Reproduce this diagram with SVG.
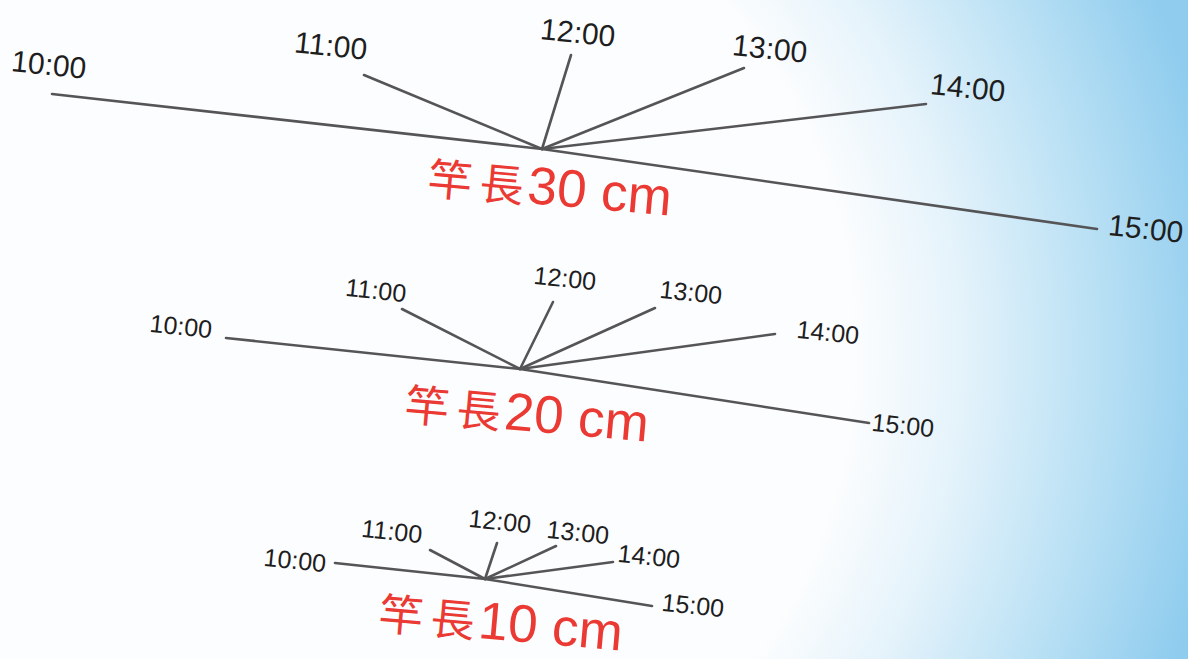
<svg xmlns="http://www.w3.org/2000/svg" width="1188" height="659" viewBox="0 0 1188 659">
<defs>
<radialGradient id="sky" gradientUnits="userSpaceOnUse" cx="330" cy="350" r="900">
<stop offset="0" stop-color="#fcfdfe"/>
<stop offset="0.58" stop-color="#fcfdfe"/>
<stop offset="0.7" stop-color="#e5f3fb"/>
<stop offset="0.84" stop-color="#bde2f5"/>
<stop offset="1" stop-color="#8fccee"/>
</radialGradient>
<style>
.ln{stroke:#555557;stroke-width:2.6;fill:none;stroke-linecap:round}
.t1{font-family:"Liberation Sans","DejaVu Sans",sans-serif;font-size:30px;fill:#1e1e1e;text-anchor:middle}
.t2{font-family:"Liberation Sans","DejaVu Sans",sans-serif;font-size:25px;fill:#1e1e1e;text-anchor:middle}
.rd{font-family:"Liberation Sans","Noto Sans CJK TC",sans-serif;font-size:53px;fill:#ea3a33;text-anchor:middle}
.cj{font-size:44px}
</style>
</defs>
<rect width="1188" height="659" fill="url(#sky)"/>

<g id="connectors">
<!-- 30 cm -->
<polyline class="ln" points="52,94 542,149 1097,229"/>
<line class="ln" x1="364" y1="75" x2="542" y2="149"/>
<line class="ln" x1="571" y1="55" x2="542" y2="149"/>
<line class="ln" x1="744" y1="68" x2="542" y2="149"/>
<line class="ln" x1="926" y1="104" x2="542" y2="149"/>
<!-- 20 cm -->
<polyline class="ln" points="226,338 520,369 869,423"/>
<line class="ln" x1="402" y1="309" x2="520" y2="369"/>
<line class="ln" x1="553" y1="302" x2="520" y2="369"/>
<line class="ln" x1="655" y1="308" x2="520" y2="369"/>
<line class="ln" x1="775" y1="334" x2="520" y2="369"/>
<!-- 10 cm -->
<polyline class="ln" points="335,563 485,579 652,606"/>
<line class="ln" x1="430" y1="550" x2="485" y2="579"/>
<line class="ln" x1="497" y1="543" x2="485" y2="579"/>
<line class="ln" x1="556" y1="546" x2="485" y2="579"/>
<line class="ln" x1="613" y1="562" x2="485" y2="579"/>
</g>

<g id="rod30">
<text class="t1" x="49" y="75" transform="rotate(6 49 64)">10:00</text>
<text class="t1" x="331" y="56" transform="rotate(6 331 45)">11:00</text>
<text class="t1" x="578" y="43" transform="rotate(6 578 32)">12:00</text>
<text class="t1" x="770" y="59" transform="rotate(6 770 48)">13:00</text>
<text class="t1" x="968" y="98" transform="rotate(6 968 87)">14:00</text>
<text class="t1" x="1146" y="239" transform="rotate(6 1146 228)">15:00</text>
<text class="rd" x="550" y="205" transform="rotate(5 550 187)"><tspan class="cj">竿</tspan><tspan class="cj" dx="8">長</tspan><tspan dx="4">30 cm</tspan></text>
</g>

<g id="rod20">
<text class="t2" x="181" y="335" transform="rotate(6 181 326)">10:00</text>
<text class="t2" x="376" y="299" transform="rotate(6 376 290)">11:00</text>
<text class="t2" x="565" y="287" transform="rotate(6 565 278)">12:00</text>
<text class="t2" x="691" y="301" transform="rotate(6 691 292)">13:00</text>
<text class="t2" x="828" y="341" transform="rotate(6 828 332)">14:00</text>
<text class="t2" x="903" y="434" transform="rotate(6 903 425)">15:00</text>
<text class="rd" x="527" y="431" transform="rotate(5 527 413)"><tspan class="cj">竿</tspan><tspan class="cj" dx="8">長</tspan><tspan dx="4">20 cm</tspan></text>
</g>

<g id="rod10">
<text class="t2" x="295" y="569" transform="rotate(6 295 560)">10:00</text>
<text class="t2" x="392" y="540" transform="rotate(6 392 531)">11:00</text>
<text class="t2" x="500" y="530" transform="rotate(6 500 521)">12:00</text>
<text class="t2" x="578" y="541" transform="rotate(6 578 532)">13:00</text>
<text class="t2" x="649" y="565" transform="rotate(6 649 556)">14:00</text>
<text class="t2" x="693" y="614" transform="rotate(6 693 605)">15:00</text>
<text class="rd" x="501" y="640" transform="rotate(5 501 622)"><tspan class="cj">竿</tspan><tspan class="cj" dx="8">長</tspan><tspan dx="4">10 cm</tspan></text>
</g>
</svg>
